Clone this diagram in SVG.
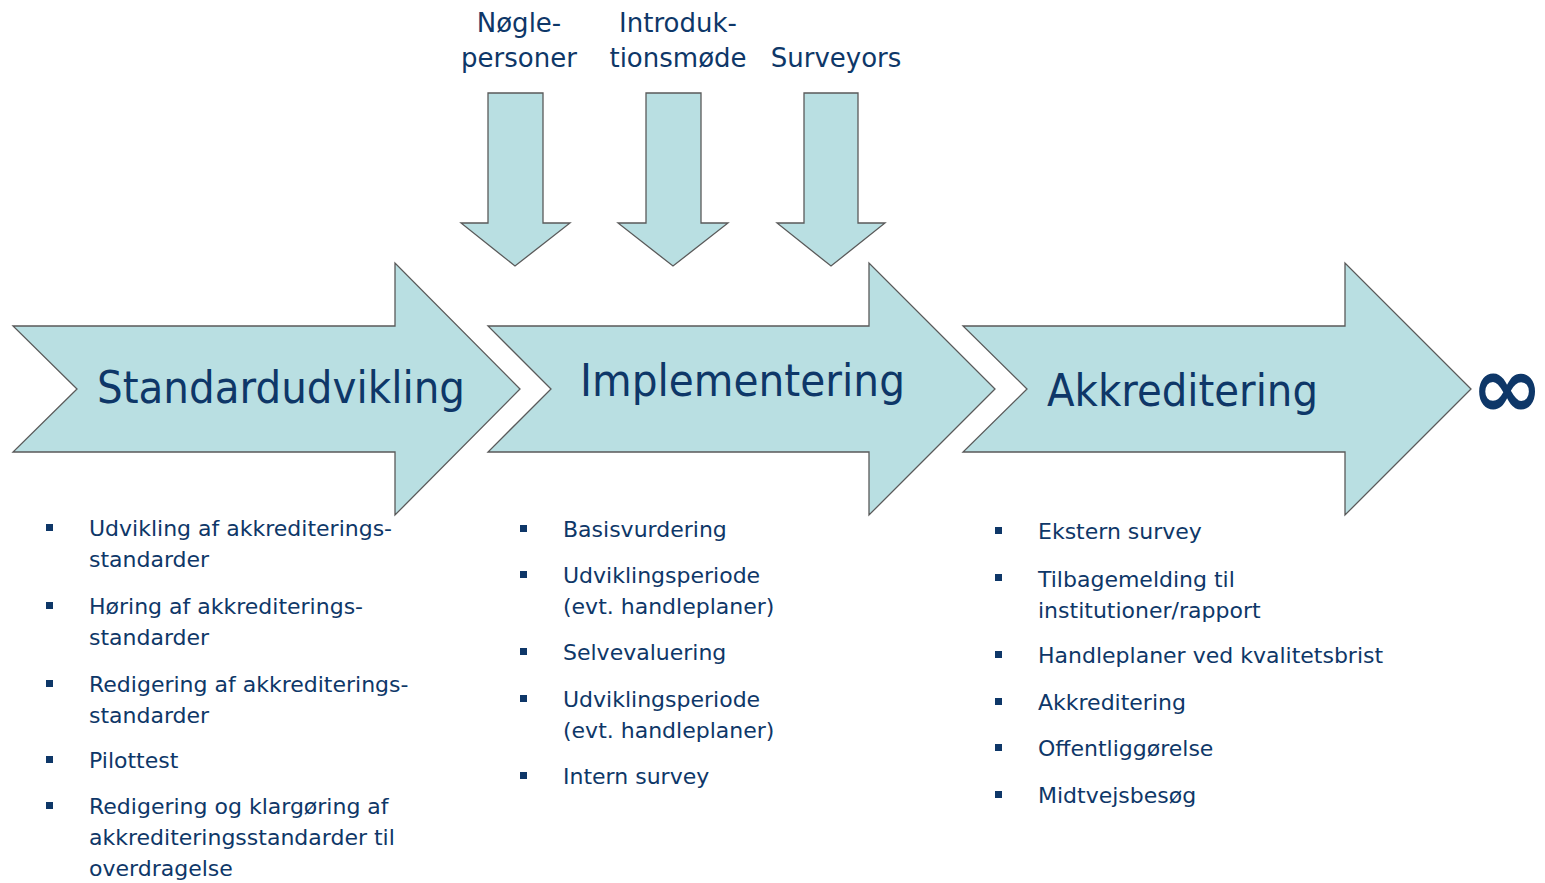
<svg xmlns="http://www.w3.org/2000/svg" width="1545" height="883" viewBox="0 0 1545 883">
<style>
.arr{fill:#b9dfe2;stroke:#5a5a5a;stroke-width:1.3;stroke-linejoin:miter}
text{font-family:"DejaVu Sans","Verdana",sans-serif;fill:#0e3768}
.h{font-size:44px}
.lab{font-size:26px;text-anchor:middle}
.b{font-size:22px}
.bul{fill:#0e3768}
</style>
<defs>
<rect id="sq" width="7" height="7" class="bul"/>
</defs>
<rect width="1545" height="883" fill="#ffffff"/>

<g id="down-arrows">
<g id="down1"><polygon class="arr" points="488,93 543,93 543,223 570,223 515,266 461,223 488,223"/></g>
<g id="down2"><polygon class="arr" points="646,93 701,93 701,223 728,223 673,266 618,223 646,223"/></g>
<g id="down3"><polygon class="arr" points="804,93 858,93 858,223 885,223 831,266 777,223 804,223"/></g>
</g>

<g id="top-labels">
<g id="lbl-noegle"><text class="lab" x="519" y="32">Nøgle-</text><text class="lab" x="519" y="67">personer</text></g>
<g id="lbl-intro"><text class="lab" x="678" y="32">Introduk-</text><text class="lab" x="678" y="67">tionsmøde</text></g>
<g id="lbl-surveyors"><text class="lab" x="836" y="67">Surveyors</text></g>
</g>

<g id="stage1">
<polygon class="arr" points="13,326 395,326 395,263 520,389 395,515 395,452 13,452 77,389"/>
<text class="h" x="97" y="403" textLength="368" lengthAdjust="spacingAndGlyphs">Standardudvikling</text>
</g>
<g id="stage2">
<polygon class="arr" points="488,326 869,326 869,263 995,389 869,515 869,452 488,452 551,389"/>
<text class="h" x="580" y="396" textLength="325" lengthAdjust="spacingAndGlyphs">Implementering</text>
</g>
<g id="stage3">
<polygon class="arr" points="963,326 1345,326 1345,263 1471,389 1345,515 1345,452 963,452 1027,389"/>
<text class="h" x="1047" y="406" textLength="271" lengthAdjust="spacingAndGlyphs">Akkreditering</text>
</g>

<g id="infinity">
<text x="1507" y="417" font-size="86" font-weight="bold" text-anchor="middle">∞</text>
</g>

<g id="list1">
<use href="#sq" x="46" y="524"/>
<text class="b" x="89" y="536">Udvikling af akkrediterings-</text>
<text class="b" x="89" y="567">standarder</text>
<use href="#sq" x="46" y="602"/>
<text class="b" x="89" y="614">Høring af akkrediterings-</text>
<text class="b" x="89" y="645">standarder</text>
<use href="#sq" x="46" y="680"/>
<text class="b" x="89" y="692">Redigering af akkrediterings-</text>
<text class="b" x="89" y="723">standarder</text>
<use href="#sq" x="46" y="756"/>
<text class="b" x="89" y="768">Pilottest</text>
<use href="#sq" x="46" y="802"/>
<text class="b" x="89" y="814">Redigering og klargøring af</text>
<text class="b" x="89" y="845">akkrediteringsstandarder til</text>
<text class="b" x="89" y="876">overdragelse</text>
</g>

<g id="list2">
<use href="#sq" x="520" y="525"/>
<text class="b" x="563" y="537">Basisvurdering</text>
<use href="#sq" x="520" y="571"/>
<text class="b" x="563" y="583">Udviklingsperiode</text>
<text class="b" x="563" y="614">(evt. handleplaner)</text>
<use href="#sq" x="520" y="648"/>
<text class="b" x="563" y="660">Selvevaluering</text>
<use href="#sq" x="520" y="695"/>
<text class="b" x="563" y="707">Udviklingsperiode</text>
<text class="b" x="563" y="738">(evt. handleplaner)</text>
<use href="#sq" x="520" y="772"/>
<text class="b" x="563" y="784">Intern survey</text>
</g>

<g id="list3">
<use href="#sq" x="995" y="527"/>
<text class="b" x="1038" y="539">Ekstern survey</text>
<use href="#sq" x="995" y="574"/>
<text class="b" x="1038" y="587">Tilbagemelding til</text>
<text class="b" x="1038" y="618">institutioner/rapport</text>
<use href="#sq" x="995" y="651"/>
<text class="b" x="1038" y="663">Handleplaner ved kvalitetsbrist</text>
<use href="#sq" x="995" y="698"/>
<text class="b" x="1038" y="710">Akkreditering</text>
<use href="#sq" x="995" y="744"/>
<text class="b" x="1038" y="756">Offentliggørelse</text>
<use href="#sq" x="995" y="791"/>
<text class="b" x="1038" y="803">Midtvejsbesøg</text>
</g>
</svg>
